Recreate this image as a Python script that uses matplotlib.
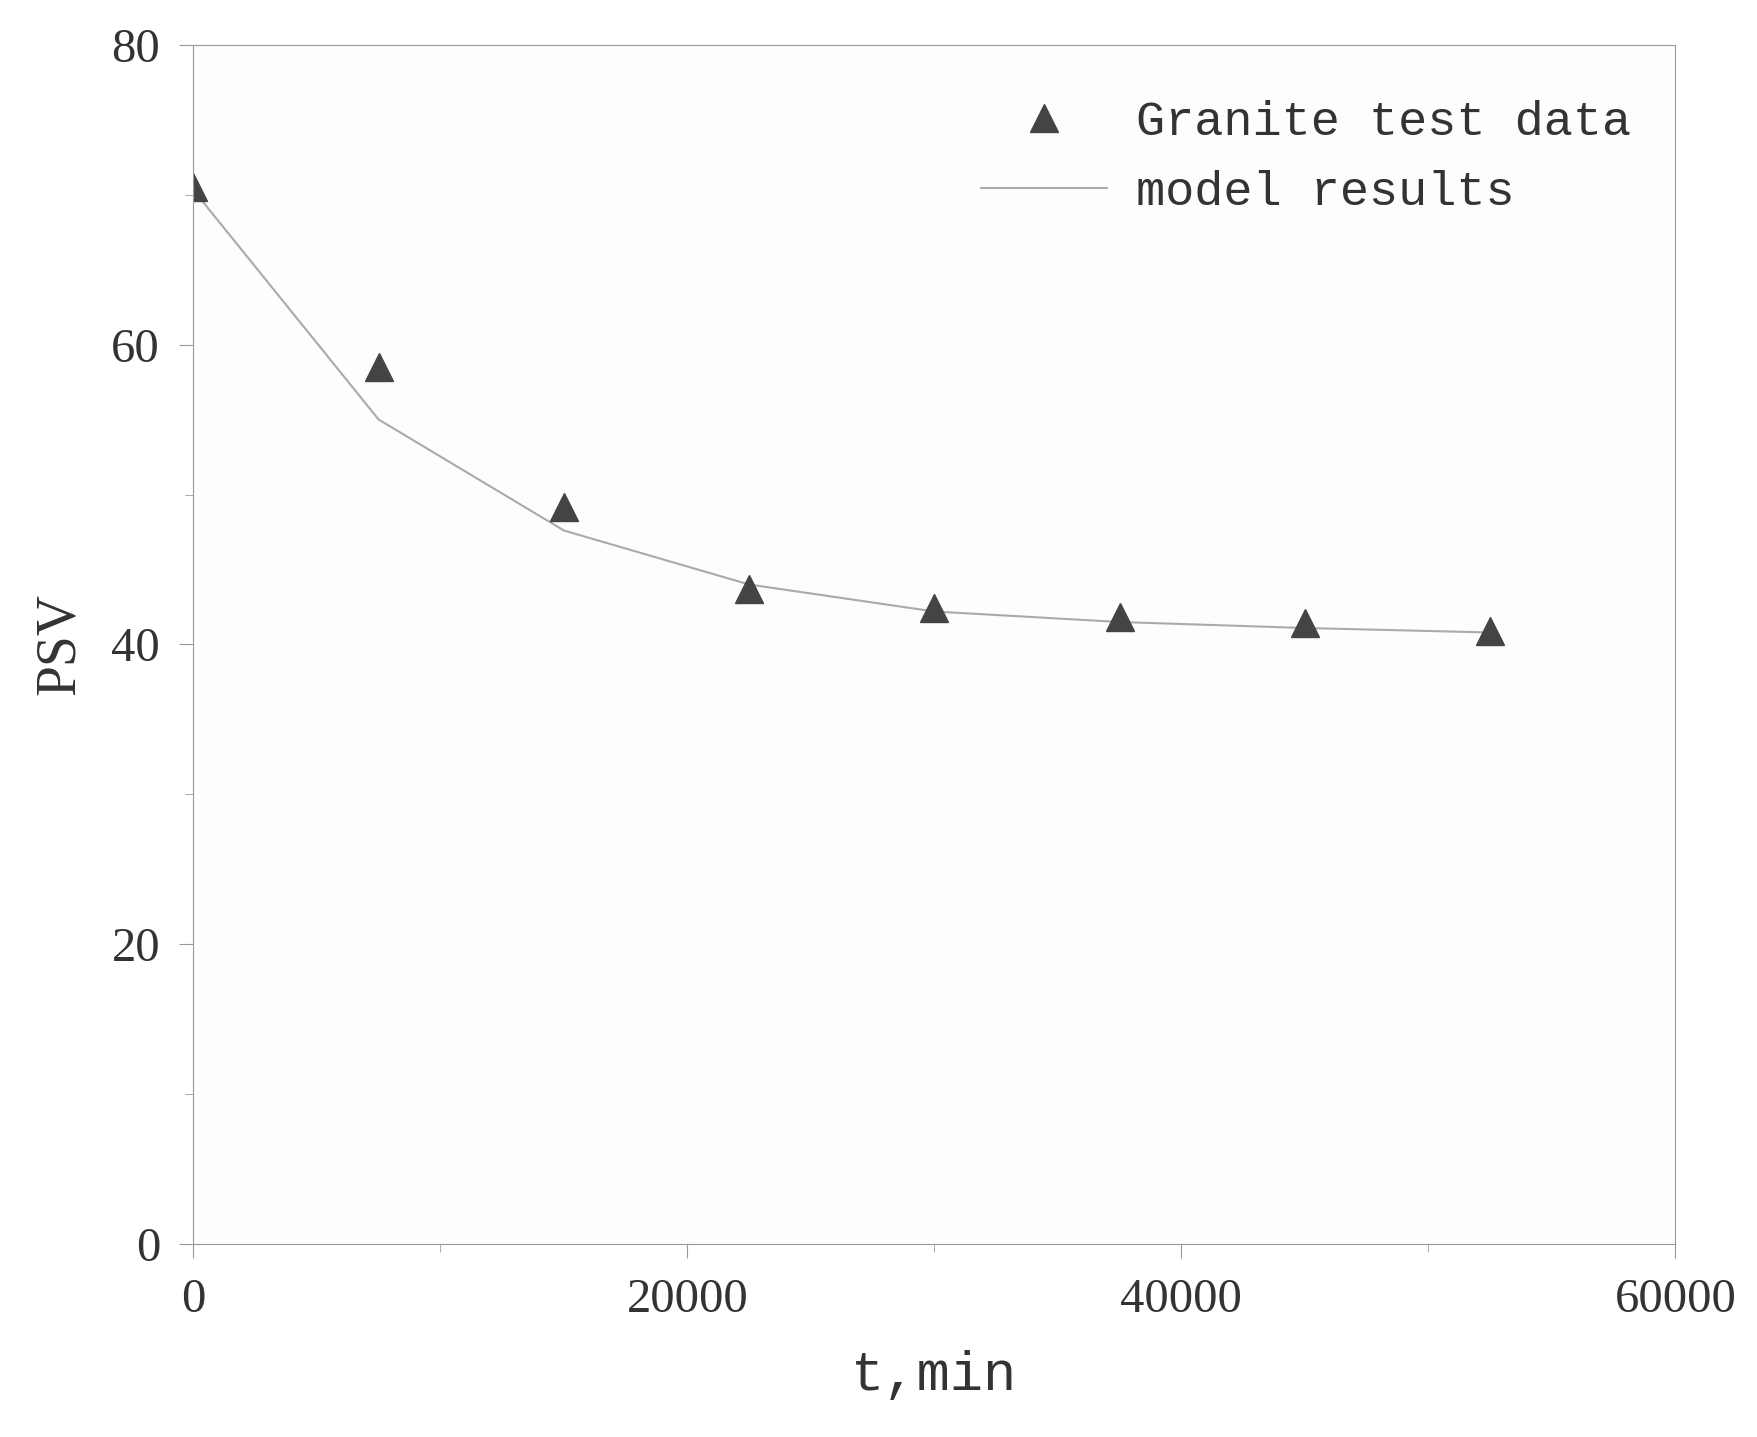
import matplotlib
matplotlib.use("Agg")
import matplotlib.pyplot as plt
from matplotlib.ticker import MultipleLocator

t = [0, 7500, 15000, 22500, 30000, 37500, 45000, 52500]
psv_test = [70.5, 58.5, 49.2, 43.7, 42.4, 41.8, 41.4, 40.9]
psv_model = [70.3, 55.0, 47.6, 44.0, 42.2, 41.5, 41.1, 40.8]

fig = plt.figure(figsize=(17.58, 14.37), dpi=100)
ax = fig.add_axes([0.110, 0.134, 0.843, 0.835])
ax.set_facecolor('#fdfdfd')
ax.plot(t, psv_model, color='#aaaaaa', lw=1.5, label='model results')
ax.plot(t, psv_test, '^', color='#444444', ms=20, ls='none', label='Granite test data')
ax.set_xlim(0, 60000)
ax.set_ylim(0, 80)
ax.xaxis.set_major_locator(MultipleLocator(20000))
ax.xaxis.set_minor_locator(MultipleLocator(10000))
ax.yaxis.set_major_locator(MultipleLocator(20))
ax.yaxis.set_minor_locator(MultipleLocator(10))
for s in ax.spines.values():
    s.set_color('#999999')
ax.tick_params(which='both', direction='out', color='#999999', top=False, right=False)
ax.tick_params(which='major', length=10, labelsize=35, labelcolor='#333333', pad=14)
ax.tick_params(which='minor', length=6)
for lab in ax.get_xticklabels() + ax.get_yticklabels():
    lab.set_family('Liberation Serif')
ax.set_xlabel('t,min', fontsize=40, family='Liberation Mono', color='#333333', labelpad=20)
ax.set_ylabel('PSV', fontsize=40, family='Liberation Serif', color='#333333', labelpad=18)
h, l = ax.get_legend_handles_labels()
ax.legend([h[1], h[0]], [l[1], l[0]], loc='upper right', frameon=False,
          prop={'family': 'Liberation Mono', 'size': 35}, handlelength=2.6,
          handletextpad=0.6, labelcolor='#333333', bbox_to_anchor=(1.0, 0.99))
fig.savefig('out.png', dpi=100)
